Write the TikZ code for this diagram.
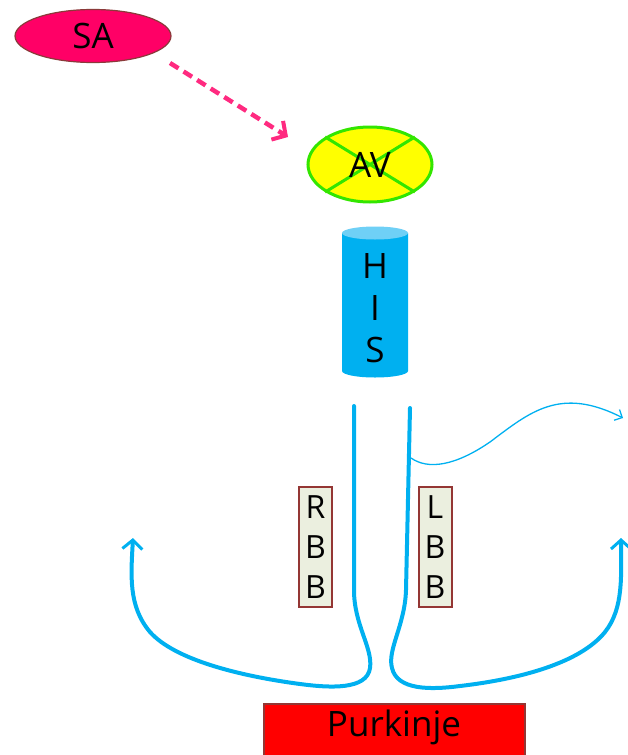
\documentclass[tikz,border=0pt]{standalone}
\usepackage{fontspec}
\setmainfont{Open Sans}
\usetikzlibrary{arrows.meta,shapes.geometric}

\definecolor{sapink}{HTML}{FF0066}
\definecolor{sarim}{HTML}{8B3A3A}
\definecolor{dashpink}{HTML}{FF2A80}
\definecolor{avyellow}{HTML}{FFFF00}
\definecolor{avgreen}{HTML}{33E600}
\definecolor{hisblue}{HTML}{00B0F0}
\definecolor{histop}{HTML}{6FD0F6}
\definecolor{fibre}{HTML}{00B0F0}
\definecolor{boxfill}{HTML}{EBEFDF}
\definecolor{boxrim}{HTML}{943634}

\tikzset{
  big/.style={font=\fontsize{35}{40}\selectfont},
  bundlebox/.style={draw=boxrim, line width=2pt, fill=boxfill, minimum width=33pt,
    minimum height=120pt, inner sep=0pt, align=center,
    font=\fontsize{32}{40}\selectfont},
  fibreline/.style={draw=fibre, line width=4pt, line cap=round, line join=round},
  barb/.style={-{Straight Barb[length=9pt,width=20pt,line width=3pt]}},
}

\begin{document}
\begin{tikzpicture}[x=1pt,y=-1pt]
\useasboundingbox (0,0) rectangle (627,755);

% sinoatrial node
\node[ellipse, draw=sarim, line width=1.2pt, fill=sapink, minimum width=156pt,
  minimum height=53pt, inner sep=0pt, big] (SA) at (93,36) {SA};

% atrioventricular node, crossed out
\node[ellipse, draw=avgreen, line width=3pt, fill=avyellow, minimum width=124pt,
  minimum height=75pt, inner sep=0pt] (AV) at (370,164.5) {};
\draw[avgreen, line width=3pt] (AV.north west) -- (AV.south east)
  (AV.north east) -- (AV.south west);
\node[big] at (AV) {AV};

% dashed conduction from SA to AV
\coordinate (saout) at (170,63);
\coordinate (avin) at (288,137);
\draw[dashpink, line width=4.5pt, dash pattern=on 10pt off 6pt,
  -{Straight Barb[length=10pt,width=22pt,line width=4pt]}] (saout) -- (avin);

% bundle of His as a cylinder
\fill[hisblue] (342,233) -- (342,371) arc[start angle=180,end angle=0,
  x radius=33, y radius=6.5] -- (408,233) -- cycle;
\fill[histop] (375,233) ellipse[x radius=33, y radius=6.5];
\node[align=center, font=\fontsize{35}{42}\selectfont] (HIS) at (375,308)
  {H\\I\\S};

% right and left bundle branches
\node[bundlebox] (RBB) at (315.5,547) {R\\B\\B};
\node[bundlebox] (LBB) at (435,547) {L\\B\\B};

% Purkinje fibres
\node[draw=boxrim, line width=1.5pt, fill=red, minimum width=261pt,
  minimum height=80pt, anchor=north west, inner sep=0pt] (PK) at (263,703) {};
\node[big] at (394,727) {Purkinje};

% branch fibres
\coordinate (rtop) at (354,406);
\coordinate (ltop) at (410,408);
\coordinate (rtip) at (133,538);
\coordinate (ltip) at (621,538);
\coordinate (side) at (623,418);

\draw[fibreline, barb] (rtop) -- (354,590)
  .. controls (354,625) and (373,648) .. (370,668)
  .. controls (367,690) and (330,688) .. (300,684)
  .. controls (240,676) and (175,660) .. (150,632)
  .. controls (128,606) and (131,575) .. (rtip);

\draw[fibreline, barb] (ltop) -- (406,590)
  .. controls (405,625) and (387,650) .. (392,668)
  .. controls (397,690) and (430,690) .. (460,686)
  .. controls (520,679) and (580,663) .. (605,632)
  .. controls (624,608) and (621,575) .. (ltip);

% thin branch leaving the left bundle
\draw[fibre, line width=1.3pt,
  -{Straight Barb[length=6pt,width=12pt,line width=1.3pt]}]
  (411,458) .. controls (428,470) and (455,466) .. (490,442)
  .. controls (530,412) and (560,386) .. (side);
\end{tikzpicture}
\end{document}
